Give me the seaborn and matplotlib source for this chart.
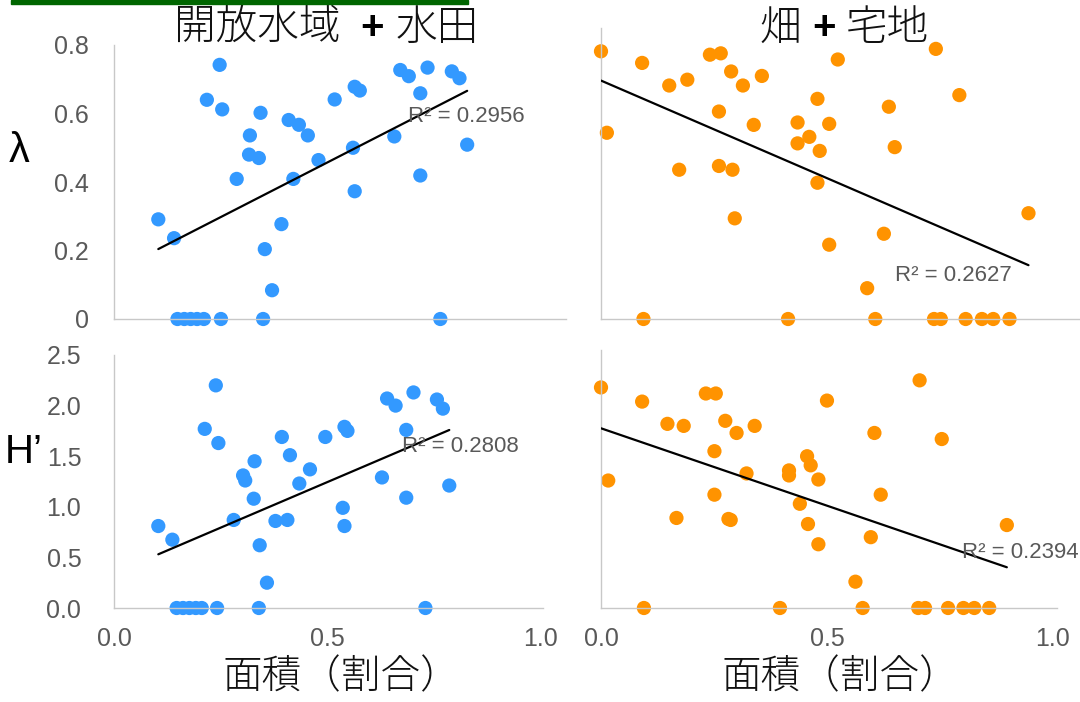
import matplotlib
matplotlib.use("Agg")
import matplotlib.pyplot as plt
import seaborn as sns
from matplotlib.patches import Rectangle

# ---- data: area share (x) vs. lambda / Shannon H' (y) ----
# open water + paddy field
water_x_lam = [0.104, 0.141, 0.248, 0.218, 0.254, 0.344, 0.319, 0.317, 0.340, 0.288,
               0.410, 0.434, 0.455, 0.421, 0.480, 0.518, 0.565, 0.577, 0.561, 0.565,
               0.393, 0.354, 0.371, 0.658, 0.672, 0.692, 0.736, 0.719, 0.719, 0.793,
               0.811, 0.829, 0.149, 0.165, 0.180, 0.195, 0.211, 0.251, 0.350, 0.766]
water_lam = [0.291, 0.236, 0.742, 0.640, 0.612, 0.602, 0.536, 0.480, 0.470, 0.409,
             0.581, 0.567, 0.536, 0.409, 0.464, 0.641, 0.678, 0.667, 0.500, 0.373,
             0.277, 0.204, 0.084, 0.533, 0.727, 0.709, 0.734, 0.659, 0.419, 0.723,
             0.703, 0.509, 0.0, 0.0, 0.0, 0.0, 0.0, 0.0, 0.0, 0.0]

water_x_h = [0.104, 0.137, 0.239, 0.213, 0.245, 0.330, 0.303, 0.308, 0.328, 0.281,
             0.342, 0.359, 0.394, 0.413, 0.435, 0.460, 0.379, 0.407, 0.496, 0.541,
             0.548, 0.537, 0.541, 0.629, 0.641, 0.661, 0.703, 0.686, 0.686, 0.758,
             0.772, 0.787, 0.147, 0.162, 0.177, 0.192, 0.206, 0.242, 0.340, 0.731]
water_h = [0.81, 0.675, 2.20, 1.77, 1.63, 1.45, 1.31, 1.26, 1.08, 0.87,
           0.62, 0.25, 1.69, 1.51, 1.23, 1.37, 0.86, 0.87, 1.69, 1.79,
           1.75, 0.99, 0.81, 1.29, 2.07, 2.00, 2.13, 1.76, 1.09, 2.06,
           1.97, 1.21, 0.0, 0.0, 0.0, 0.0, 0.0, 0.0, 0.0, 0.0]

# upland field + residential land
urban_x_lam = [0.000, 0.013, 0.091, 0.151, 0.191, 0.241, 0.265, 0.288, 0.314, 0.356,
               0.261, 0.338, 0.173, 0.261, 0.291, 0.296, 0.524, 0.479, 0.435, 0.505,
               0.461, 0.435, 0.484, 0.479, 0.505, 0.637, 0.650, 0.626, 0.589, 0.741,
               0.793, 0.946, 0.094, 0.414, 0.607, 0.737, 0.752, 0.807, 0.843, 0.868,
               0.904]
urban_lam = [0.782, 0.544, 0.748, 0.682, 0.699, 0.772, 0.776, 0.723, 0.682, 0.710,
             0.606, 0.567, 0.436, 0.447, 0.436, 0.294, 0.758, 0.643, 0.574, 0.570,
             0.532, 0.513, 0.491, 0.398, 0.217, 0.620, 0.502, 0.249, 0.090, 0.789,
             0.654, 0.309, 0.0, 0.0, 0.0, 0.0, 0.0, 0.0, 0.0, 0.0,
             0.0]

urban_x_h = [0.000, 0.016, 0.091, 0.147, 0.183, 0.232, 0.254, 0.275, 0.300, 0.340,
             0.251, 0.322, 0.167, 0.251, 0.282, 0.287, 0.500, 0.416, 0.416, 0.456,
             0.464, 0.481, 0.440, 0.458, 0.481, 0.605, 0.619, 0.597, 0.563, 0.705,
             0.754, 0.898, 0.095, 0.396, 0.579, 0.702, 0.717, 0.768, 0.802, 0.826,
             0.859]
urban_h = [2.18, 1.26, 2.04, 1.82, 1.80, 2.12, 2.12, 1.85, 1.73, 1.80,
           1.55, 1.33, 0.89, 1.12, 0.88, 0.87, 2.05, 1.36, 1.31, 1.50,
           1.41, 1.27, 1.03, 0.83, 0.63, 1.73, 1.12, 0.70, 0.26, 2.25,
           1.67, 0.82, 0.0, 0.0, 0.0, 0.0, 0.0, 0.0, 0.0, 0.0,
           0.0]

r2_labels = ["R² = 0.2956", "R² = 0.2627", "R² = 0.2808", "R² = 0.2394"]
col_titles = [("開放水域", "水田"), ("畑", "宅地")]
row_labels = ["λ", "H’"]
x_label = "面積（割合）"
x_ticks = [0.0, 0.5, 1.0]
x_ticklabels = ["0.0", "0.5", "1.0"]
lam_ticks = [0, 0.2, 0.4, 0.6, 0.8]
lam_ticklabels = ["0", "0.2", "0.4", "0.6", "0.8"]
h_ticks = [0.0, 0.5, 1.0, 1.5, 2.0, 2.5]
h_ticklabels = ["0.0", "0.5", "1.0", "1.5", "2.0", "2.5"]

BLUE = "#3399FF"
ORANGE = "#FF9300"
GREY_TXT = "#595959"
SPINE = "#C8C8C8"

sns.set_theme(style="white")
plt.rcParams["font.family"] = ["Liberation Sans", "Noto Sans CJK JP", "DejaVu Sans"]

W, H = 1080, 702
fig = plt.figure(figsize=(W / 100, H / 100), dpi=100)
fig.patch.set_facecolor("white")


def box(left, right, top, bottom):
    return [left / W, 1 - bottom / H, (right - left) / W, (bottom - top) / H]


ax_tl = fig.add_axes(box(114, 566, 45, 319))
ax_tr = fig.add_axes(box(601, 1080, 28, 319))
ax_bl = fig.add_axes(box(114, 543, 355, 608))
ax_br = fig.add_axes(box(601, 1057, 350, 608))

panels = [
    (ax_tl, water_x_lam, water_lam, BLUE, (0, 1.061), (0, 0.8), r2_labels[0], (0.826, 0.590)),
    (ax_tr, urban_x_lam, urban_lam, ORANGE, (0, 1.060), (0, 0.85), r2_labels[1], (0.779, 0.128)),
    (ax_bl, water_x_h, water_h, BLUE, (0, 1.007), (0, 2.5), r2_labels[2], (0.812, 1.60)),
    (ax_br, urban_x_h, urban_h, ORANGE, (0, 1.009), (0, 2.55), r2_labels[3], (0.927, 0.545)),
]

for ax, xs, ys, col, xl, yl, r2, r2pos in panels:
    sns.scatterplot(x=xs, y=ys, ax=ax, color=col, s=105, edgecolor="none",
                    linewidth=0, clip_on=False, zorder=2)
    sns.regplot(x=xs, y=ys, ax=ax, scatter=False, ci=None, truncate=True,
                color="black", line_kws={"lw": 1.6, "zorder": 3})
    ax.set_xlim(*xl)
    ax.set_ylim(*yl)
    ax.set_xlabel("")
    ax.set_ylabel("")
    ax.text(r2pos[0], r2pos[1], r2, ha="center", va="center", fontsize=16,
            color=GREY_TXT, zorder=4)
    for side in ("top", "right"):
        ax.spines[side].set_visible(False)
    for side in ("left", "bottom"):
        ax.spines[side].set_color(SPINE)
        ax.spines[side].set_linewidth(1.0)
    ax.set_facecolor("none")
    ax.grid(False)

# tick labels: y on the left column, x on the bottom row
ax_tl.set_yticks(lam_ticks, lam_ticklabels)
ax_bl.set_yticks(h_ticks, h_ticklabels)
ax_tr.set_yticks([])
ax_br.set_yticks([])
ax_tl.set_xticks([])
ax_tr.set_xticks([])
for ax in (ax_bl, ax_br):
    ax.set_xticks(x_ticks, x_ticklabels)
ax_tl.tick_params(axis="y", length=0, labelsize=18, labelcolor=GREY_TXT, pad=18)
ax_bl.tick_params(axis="y", length=0, labelsize=18, labelcolor=GREY_TXT, pad=23.5)
for ax in (ax_bl, ax_br):
    ax.tick_params(axis="x", length=0, labelsize=18, labelcolor=GREY_TXT, pad=14)

# column titles
cjk = ["Noto Sans CJK JP"]
title_y = 1 - 28 / H
fig.text(340 / W, title_y, col_titles[0][0], ha="right", va="center",
         fontsize=30, family=cjk, fontweight="light", color="#111111")
fig.text(372 / W, title_y, "+", ha="center", va="center", fontsize=29,
         fontweight="bold", color="black")
fig.text(396 / W, title_y, col_titles[0][1], ha="left", va="center",
         fontsize=30, family=cjk, fontweight="light", color="#111111")
fig.text(801 / W, title_y, col_titles[1][0], ha="right", va="center",
         fontsize=30, family=cjk, fontweight="light", color="#111111")
fig.text(824 / W, title_y, "+", ha="center", va="center", fontsize=29,
         fontweight="bold", color="black")
fig.text(846 / W, title_y, col_titles[1][1], ha="left", va="center",
         fontsize=30, family=cjk, fontweight="light", color="#111111")

# row labels
fig.text(19 / W, 1 - 151 / H, row_labels[0], ha="center", va="center",
         fontsize=30, color="black")
fig.text(24 / W, 1 - 452 / H, row_labels[1], ha="center", va="center",
         fontsize=29, color="black")

# shared x labels
for cx in (341, 840):
    fig.text(cx / W, 1 - 677 / H, x_label, ha="center", va="center",
             fontsize=28.5, family=cjk, fontweight="light", color="#111111")

# green rule along the top edge
fig.patches.append(Rectangle((11 / W, 1 - 4 / H), (468 - 11) / W, 4 / H,
                             transform=fig.transFigure, color="#006600",
                             zorder=5))

fig.savefig("out.png", dpi=100)
